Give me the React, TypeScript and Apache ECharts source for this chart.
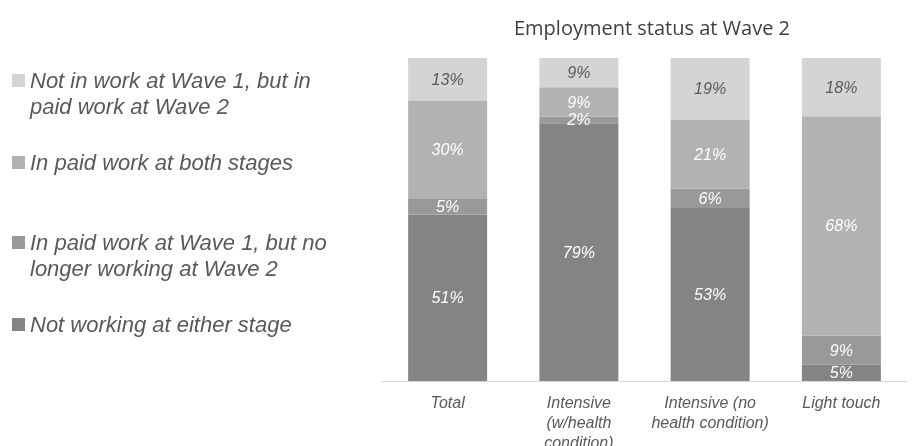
import React, { useEffect, useRef } from "react";
import * as echarts from "echarts";

const categories = [
  "Total",
  "Intensive\n(w/health\ncondition)",
  "Intensive (no\nhealth condition)",
  "Light touch",
];

const seriesNames = [
  "Not working at either stage",
  "In paid work at Wave 1, but no longer working at Wave 2",
  "In paid work at both stages",
  "Not in work at Wave 1, but in paid work at Wave 2",
];

const legendLabels = [
  "Not working at either stage",
  "In paid work at Wave 1, but no\nlonger working at Wave 2",
  "In paid work at both stages",
  "Not in work at Wave 1, but in\npaid work at Wave 2",
];

const notWorkingEither = [51, 79, 53, 5];
const workW1NotW2 = [5, 2, 6, 9];
const workBoth = [30, 9, 21, 68];
const notW1WorkW2 = [13, 9, 19, 18];

const seriesValues = [notWorkingEither, workW1NotW2, workBoth, notW1WorkW2];
const seriesColors = ["#848484", "#999999", "#b2b2b2", "#d4d4d4"];
const labelColors = ["#ffffff", "#ffffff", "#ffffff", "#595959"];

const title = "Employment status at Wave 2";

export default function App() {
  const ref = useRef<HTMLDivElement>(null);
  useEffect(() => {
    if (!ref.current) return;
    const chart = echarts.init(ref.current, null, { renderer: "svg" });
    const totals = categories.map((_, i) =>
      seriesValues.reduce((s, arr) => s + arr[i], 0)
    );
    const font = "'Liberation Sans', Arial, sans-serif";
    const legendTops = [311.5, 203.5, 149.5, 41.5];
    const twoLine = [false, true, false, true];
    const series = seriesNames.map((name, si) => ({
      name,
      type: "bar",
      stack: "total",
      barWidth: 79,
      itemStyle: { color: seriesColors[si] },
      label: {
        show: true,
        position: "inside",
        color: labelColors[si],
        fontSize: 16,
        fontStyle: "italic",
        fontFamily: font,
        formatter: (p: any) => seriesValues[si][p.dataIndex] + "%",
      },
      data: seriesValues[si].map((v, i) => (v / totals[i]) * 100),
    }));
    const legends = seriesNames.map((name, si) => ({
      data: [name],
      left: 12,
      top: legendTops[si],
      padding: 0,
      orient: "vertical",
      itemWidth: 13,
      itemHeight: 13,
      icon: "rect",
      selectedMode: false,
      formatter: () => (twoLine[si] ? "\n" : "") + legendLabels[si],
      textStyle: {
        fontSize: 22,
        fontStyle: "italic",
        fontFamily: font,
        color: "#595959",
        lineHeight: 26,
      },
    }));
    chart.setOption({
      animation: false,
      title: {
        text: title,
        left: 647,
        textAlign: "center",
        top: 12,
        textStyle: {
          fontFamily: "'Open Sans', sans-serif",
          fontWeight: "normal",
          fontSize: 20,
          color: "#404040",
        },
      },
      legend: legends,
      grid: {
        left: 382,
        right: 5,
        top: 58,
        bottom: 65,
        outerBoundsMode: "none",
        containLabel: false,
      },
      xAxis: {
        type: "category",
        data: categories,
        axisTick: { show: false },
        axisLine: { lineStyle: { color: "#d9d9d9", width: 1 } },
        axisLabel: {
          color: "#595959",
          fontSize: 16,
          fontStyle: "italic",
          fontFamily: font,
          lineHeight: 20,
          margin: 11,
          interval: 0,
        },
      },
      yAxis: { type: "value", min: 0, max: 100, show: false },
      series,
    });
    return () => chart.dispose();
  }, []);
  return (
    <div
      ref={ref}
      style={{ position: "fixed", left: 0, top: 0, width: 912, height: 446 }}
    />
  );
}
